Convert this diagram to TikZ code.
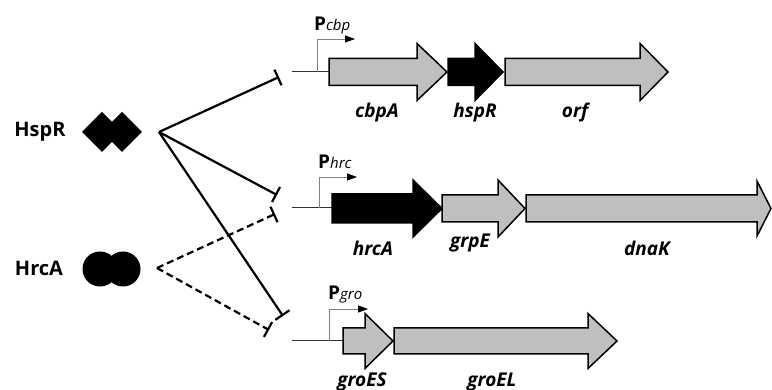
\documentclass[tikz,border=0pt]{standalone}
\usepackage{fontspec}
\setmainfont{Open Sans}
\usetikzlibrary{arrows.meta}
\tikzset{
  gene/.style={draw=black, line width=1.5pt, line join=miter},
  grey/.style={gene, fill=black!25},
  blk/.style={gene, fill=black},
  baseline/.style={draw=black!80, line width=1pt},
  prom/.style={draw=black!50, line width=0.8pt, -{Triangle[length=10pt,width=7pt,fill=black,color=black]}},
  inhib/.style={line width=2.2pt, -{Bar[width=17pt,line width=2.2pt]}},
  inhibd/.style={inhib, dash pattern=on 7pt off 4pt},
  genelab/.style={font=\fontsize{19}{19}\selectfont\bfseries\itshape},
  reglab/.style={font=\fontsize{20}{20}\selectfont\bfseries},
  plab/.style={font=\fontsize{19}{19}\selectfont\bfseries, anchor=base west, inner sep=0pt},
  psub/.style={},
}
\newcommand{\psubfont}{\fontsize{15}{15}\selectfont\mdseries\itshape}
% x0, xhead, xtip, ycenter, bodyhalf, headhalf, style
\newcommand{\genearrow}[7]{%
  \path[#7] (#1,#4-#5) -- (#2,#4-#5) -- (#2,#4-#6) -- (#3,#4) -- (#2,#4+#6) -- (#2,#4+#5) -- (#1,#4+#5) -- cycle;}
\begin{document}
\begin{tikzpicture}[x=1pt,y=-1pt]
\useasboundingbox (0,0) rectangle (772,390);
% regulators
\node[reglab] (hsprlab) at (40,132) {HspR};
\node[reglab] (hrcalab) at (39,268) {HrcA};
\fill (82,132) -- (102,112) -- (112,122) -- (122,112) -- (142,132) -- (122,152) -- (112,142) -- (102,152) -- cycle;
\fill (100,269) circle (17.5);
\fill (123,269) circle (17.5);
\coordinate (hsprhub) at (159,132);
\coordinate (hrcahub) at (157,268);
% targets
\coordinate (t1) at (279,77);
\coordinate (t2) at (277,195);
\coordinate (t3) at (275,214);
\coordinate (t4) at (283,316);
\coordinate (t5) at (269,330);
\draw[inhib] (hsprhub) -- (t1);
\draw[inhib] (hsprhub) -- (t2);
\draw[inhib] (hsprhub) -- (t4);
\draw[inhibd] (hrcahub) -- (t3);
\draw[inhibd] (hrcahub) -- (t5);
% row 1
\coordinate (b1s) at (292,72); \coordinate (b1e) at (329,72);
\draw[baseline] (b1s) -- (b1e);
\coordinate (p1) at (317,72);
\draw[prom] (p1) |- (355,39);
\node[plab] (p1lab) at (314,31) {P\psubfont cbp};
\genearrow{329}{417}{447}{72}{13.5}{28.5}{grey}
\genearrow{448}{475}{503}{72}{13.5}{28.5}{blk}
\genearrow{505}{640}{668}{72}{13.5}{28.5}{grey}
\node[genelab] (cbpA) at (377,113) {cbpA};
\node[genelab] (hspR) at (475,113) {hspR};
\node[genelab] (orf) at (575,113) {orf};
% row 2
\coordinate (b2s) at (292,208); \coordinate (b2e) at (332,208);
\draw[baseline] (b2s) -- (b2e);
\coordinate (p2) at (319,208);
\draw[prom] (p2) |- (357,177);
\node[plab] (p2lab) at (318,169) {P\psubfont hrc};
\genearrow{332}{413}{442}{208.5}{14.5}{28.5}{blk}
\genearrow{442}{498}{525}{208.5}{13.5}{28.5}{grey}
\genearrow{526}{757}{771}{208.5}{13.5}{27.5}{grey}
\node[genelab] (hrcA) at (373,248) {hrcA};
\node[genelab] (grpE) at (470,243) {grpE};
\node[genelab] (dnaK) at (647,248) {dnaK};
% row 3
\coordinate (b3s) at (292,341); \coordinate (b3e) at (343,341);
\draw[baseline] (b3s) -- (b3e);
\coordinate (p3) at (329,341);
\draw[prom] (p3) |- (368,309);
\node[plab] (p3lab) at (328,300) {P\psubfont gro};
\genearrow{343}{365}{393}{341}{13}{27.5}{grey}
\genearrow{394}{588}{617}{341}{13}{27.5}{grey}
\node[genelab] (groES) at (362,382) {groES};
\node[genelab] (groEL) at (492,382) {groEL};
\end{tikzpicture}
\end{document}
